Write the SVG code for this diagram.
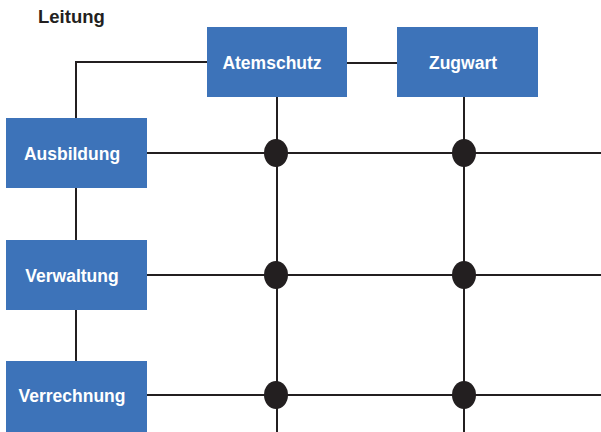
<svg xmlns="http://www.w3.org/2000/svg" width="601" height="432" viewBox="0 0 601 432">
<style>
.box{fill:#3d73b9}
.lbl{font-family:"Liberation Sans",Arial,sans-serif;font-weight:bold;font-size:17.5px;fill:#ffffff;text-anchor:middle}
.ttl{font-family:"Liberation Sans",Arial,sans-serif;font-weight:bold;font-size:18.5px;fill:#231f20}
.ln{stroke:#231f20;stroke-width:2;fill:none}
.dot{fill:#231f20}
</style>
<rect width="601" height="432" fill="#ffffff"/>
<text class="ttl" x="38" y="23">Leitung</text>
<g id="connectors">
<path class="ln" d="M76 118 V62 H207"/>
<path class="ln" d="M347 63 H397"/>
<path class="ln" d="M76 188 V240"/>
<path class="ln" d="M76 310 V361"/>
<path class="ln" d="M147 153 H601"/>
<path class="ln" d="M147 275 H601"/>
<path class="ln" d="M147 395 H601"/>
<path class="ln" d="M277 97 V432"/>
<path class="ln" d="M464 97 V432"/>
<ellipse class="dot" cx="276" cy="153" rx="12" ry="14"/>
<ellipse class="dot" cx="464" cy="153" rx="12" ry="14"/>
<ellipse class="dot" cx="276" cy="275" rx="12" ry="14"/>
<ellipse class="dot" cx="464" cy="275" rx="12" ry="14"/>
<ellipse class="dot" cx="276" cy="395" rx="12" ry="14"/>
<ellipse class="dot" cx="464" cy="395" rx="12" ry="14"/>
</g>
<g id="atemschutz">
<rect class="box" x="207" y="27" width="140" height="70"/>
<text class="lbl" x="272" y="69">Atemschutz</text>
</g>
<g id="zugwart">
<rect class="box" x="397" y="27" width="141" height="70"/>
<text class="lbl" x="463" y="69">Zugwart</text>
</g>
<g id="ausbildung">
<rect class="box" x="6" y="118" width="141" height="70"/>
<text class="lbl" x="72" y="160">Ausbildung</text>
</g>
<g id="verwaltung">
<rect class="box" x="6" y="240" width="141" height="70"/>
<text class="lbl" x="72" y="282">Verwaltung</text>
</g>
<g id="verrechnung">
<rect class="box" x="6" y="361" width="141" height="72"/>
<text class="lbl" x="72" y="402">Verrechnung</text>
</g>
</svg>
